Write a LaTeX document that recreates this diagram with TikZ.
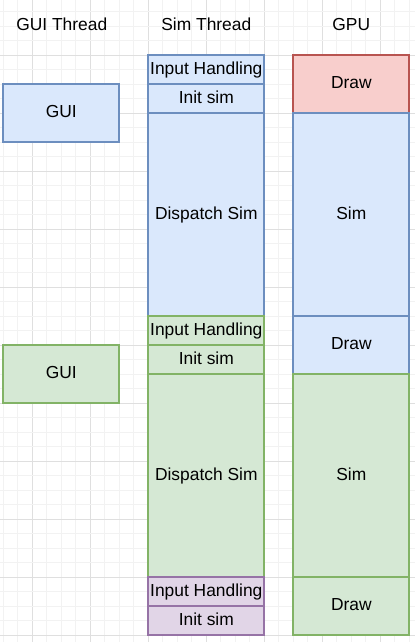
\documentclass[tikz,border=0pt]{standalone}
\usepackage{fontspec}
\setmainfont{Liberation Sans}
\usetikzlibrary{positioning}
\definecolor{blueFill}{HTML}{DAE8FC}
\definecolor{blueLine}{HTML}{6C8EBF}
\definecolor{greenFill}{HTML}{D5E8D4}
\definecolor{greenLine}{HTML}{82B366}
\definecolor{redFill}{HTML}{F8CECC}
\definecolor{redLine}{HTML}{B85450}
\definecolor{purpleFill}{HTML}{E1D5E7}
\definecolor{purpleLine}{HTML}{9673A6}
\begin{document}
\begin{tikzpicture}[x=1pt,y=-1pt,
    block/.style={draw,line width=2pt,inner sep=0pt,outer sep=0pt,minimum width=116pt,
        text height=12.5pt,text depth=3.5pt,
        font=\fontsize{17.4}{20}\selectfont},
    blueblock/.style={block,fill=blueFill,draw=blueLine},
    greenblock/.style={block,fill=greenFill,draw=greenLine},
    redblock/.style={block,fill=redFill,draw=redLine},
    purpleblock/.style={block,fill=purpleFill,draw=purpleLine},
    small/.style={minimum height=29pt},
    medium/.style={minimum height=58pt},
    tall/.style={minimum height=203pt},
    header/.style={font=\fontsize{17.4}{20}\selectfont}]
    \useasboundingbox (0,0) rectangle (415,642);
    % background grid
    \foreach \k in {0,...,28} {
        \pgfmathsetmacro{\gx}{3.3+14.5*\k}
        \pgfmathtruncatemacro{\m}{mod(\k,4)}
        \ifnum\m=2
            \draw[gray!25,line width=0.8pt] (\gx,0) -- (\gx,642);
        \else
            \draw[gray!10,line width=0.8pt] (\gx,0) -- (\gx,642);
        \fi
    }
    \foreach \k in {-3,...,40} {
        \pgfmathsetmacro{\gy}{55.3+14.5*\k}
        \pgfmathtruncatemacro{\m}{mod(\k+4,4)}
        \ifnum\m=0
            \draw[gray!25,line width=0.8pt] (0,\gy) -- (415,\gy);
        \else
            \draw[gray!10,line width=0.8pt] (0,\gy) -- (415,\gy);
        \fi
    }
    % headers
    \node[header] (guiHead) at (61.8,24.5) {GUI Thread};
    \node[header] (simHead) at (206.3,24.5) {Sim Thread};
    \node[header] (gpuHead) at (351.3,24.5) {GPU};
    % GUI thread
    \node[blueblock,medium,anchor=north west] (gui1) at (3.3,84.3) {GUI};
    \node[greenblock,medium,anchor=north west] (gui2) at (3.3,345.3) {GUI};
    % sim thread
    \node[blueblock,small,anchor=north west] (input1) at (148.3,55.3) {Input Handling};
    \node[blueblock,small,below=0pt of input1] (init1) {Init sim};
    \node[blueblock,tall,below=0pt of init1] (dispatch1) {Dispatch Sim};
    \node[greenblock,small,below=0pt of dispatch1] (input2) {Input Handling};
    \node[greenblock,small,below=0pt of input2] (init2) {Init sim};
    \node[greenblock,tall,below=0pt of init2] (dispatch2) {Dispatch Sim};
    \node[purpleblock,small,below=0pt of dispatch2] (input3) {Input Handling};
    \node[purpleblock,small,below=0pt of input3] (init3) {Init sim};
    % gpu
    \node[redblock,medium,anchor=north west] (draw1) at (293.3,55.3) {Draw};
    \node[blueblock,tall,below=0pt of draw1] (sim1) {Sim};
    \node[blueblock,medium,below=0pt of sim1] (draw2) {Draw};
    \node[greenblock,tall,below=0pt of draw2] (sim2) {Sim};
    \node[greenblock,medium,below=0pt of sim2] (draw3) {Draw};
\end{tikzpicture}
\end{document}
